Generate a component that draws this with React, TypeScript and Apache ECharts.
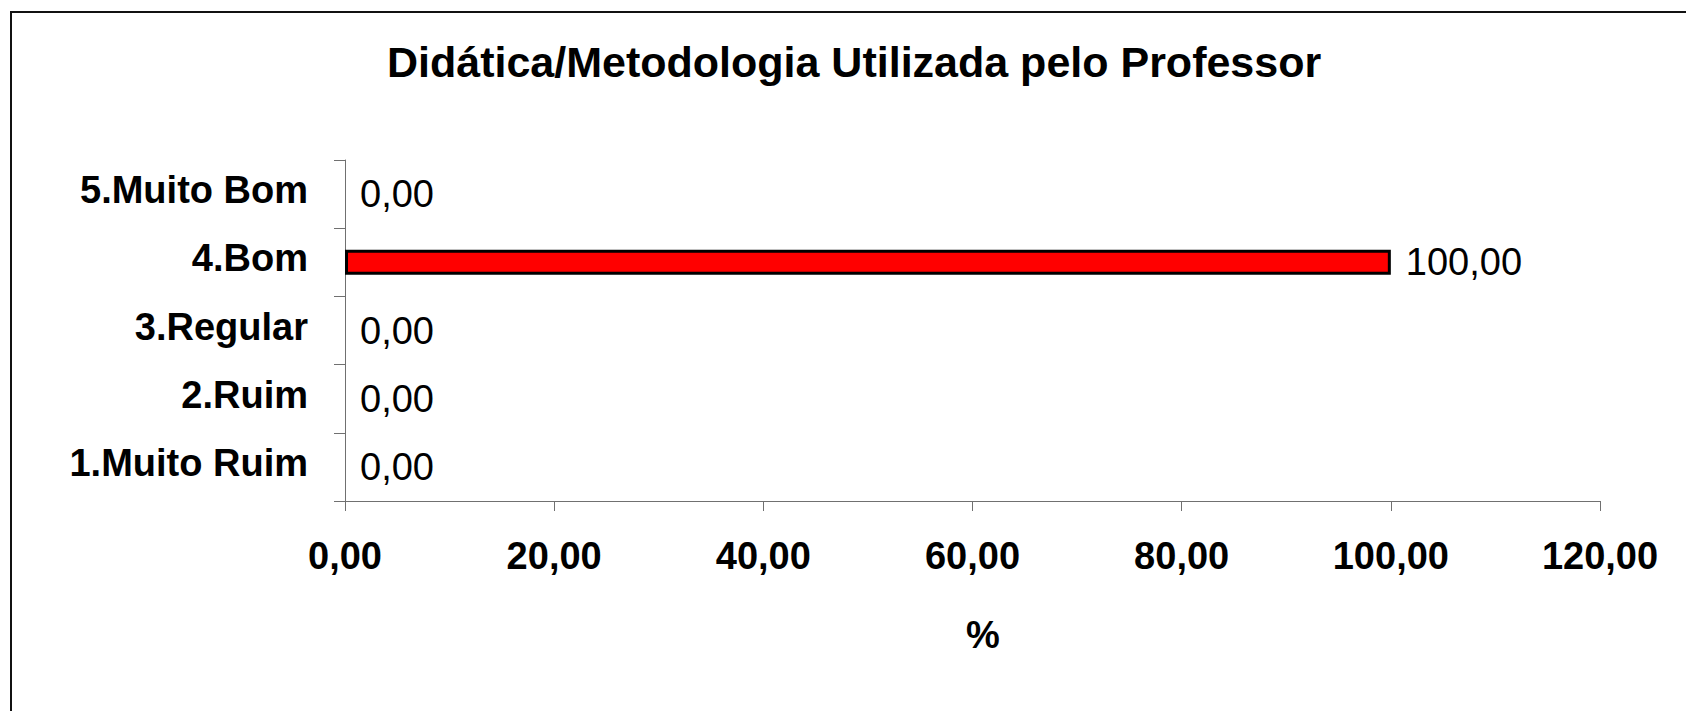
import React, { useEffect, useRef } from "react";
import * as echarts from "echarts";

const categories = ["1.Muito Ruim", "2.Ruim", "3.Regular", "4.Bom", "5.Muito Bom"];
const values = [0, 0, 0, 100, 0];
const xMin = 0;
const xMax = 120;
const xInterval = 20;
const titleText = "Didática/Metodologia Utilizada pelo Professor";
const xAxisName = "%";

const FONT = "'Liberation Sans', Arial, Helvetica, sans-serif";
const fmt = (v: number) => v.toFixed(2).replace(".", ",");

export default function App() {
  const ref = useRef<HTMLDivElement>(null);
  useEffect(() => {
    document.body.style.margin = "0";
    if (!ref.current) return;
    const chart = echarts.init(ref.current, undefined, { renderer: "svg" });
    const barData = values.map((v) => ({
      value: v,
      itemStyle: v === 0 ? { borderWidth: 0 } : undefined,
    }));
    chart.setOption({
      animation: false,
      backgroundColor: "#ffffff",
      textStyle: { fontFamily: FONT },
      title: {
        text: titleText,
        left: 387,
        top: 40,
        padding: 0,
        textStyle: { fontFamily: FONT, fontSize: 43, fontWeight: "bold", color: "#000" },
      },
      graphic: [
        {
          type: "rect",
          shape: { x: 11, y: 12, width: 1700, height: 720 },
          style: { fill: "none", stroke: "#111", lineWidth: 2 },
          silent: true,
        },
      ],
      grid: { left: 345, right: 86, top: 160, bottom: 210, containLabel: false },
      xAxis: {
        type: "value",
        min: xMin,
        max: xMax,
        interval: xInterval,
        name: xAxisName,
        nameLocation: "middle",
        nameGap: 115,
        nameTextStyle: {
          fontFamily: FONT,
          fontSize: 38,
          fontWeight: "bold",
          color: "#000",
          padding: [0, 0, 0, 21],
        },
        axisLine: { show: true, lineStyle: { color: "#707070", width: 1 } },
        axisTick: { show: true, length: 10, inside: false, lineStyle: { color: "#707070", width: 1 } },
        splitLine: { show: false },
        axisLabel: {
          formatter: (v: number) => fmt(v),
          fontFamily: FONT,
          fontSize: 38,
          fontWeight: "bold",
          color: "#000",
          margin: 36,
        },
      },
      yAxis: {
        type: "category",
        data: categories,
        axisLine: { show: true, lineStyle: { color: "#707070", width: 1 } },
        axisTick: { show: true, length: 11, inside: false, lineStyle: { color: "#707070", width: 1 } },
        splitLine: { show: false },
        axisLabel: {
          fontFamily: FONT,
          fontSize: 38,
          fontWeight: "bold",
          color: "#000",
          margin: 37,
          verticalAlign: "bottom",
          lineHeight: 8,
        },
      },
      series: [
        {
          type: "bar",
          data: barData,
          barWidth: 25,
          itemStyle: { color: "#ff0000", borderColor: "#000", borderWidth: 3 },
          label: {
            show: true,
            position: "right",
            distance: 15,
            formatter: (p: any) => fmt(p.value),
            fontFamily: FONT,
            fontSize: 38,
            color: "#000",
          },
        },
      ],
    });
    return () => chart.dispose();
  }, []);
  return <div ref={ref} style={{ width: 1686, height: 711 }} />;
}
